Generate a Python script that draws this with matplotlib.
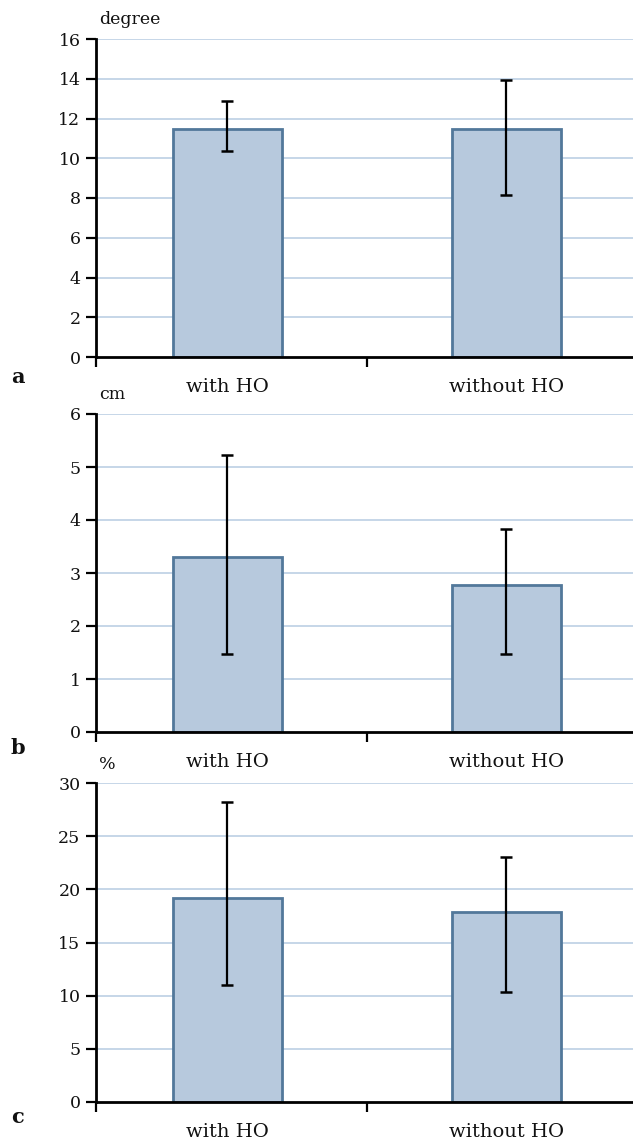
import matplotlib
matplotlib.use("Agg")
import matplotlib.pyplot as plt

# ---- data ----
categories = ["with HO", "without HO"]
panel_letters = ["a", "b", "c"]
units = ["degree", "cm", "%"]

angle_mean = [11.45, 11.45]
angle_low = [10.37, 8.13]
angle_high = [12.9, 13.95]

length_mean = [3.31, 2.77]
length_low = [1.48, 1.48]
length_high = [5.23, 3.83]

pct_mean = [19.15, 17.9]
pct_low = [10.96, 10.33]
pct_high = [28.2, 23.1]

yticks_a = [0, 2, 4, 6, 8, 10, 12, 14, 16]
yticks_b = [0, 1, 2, 3, 4, 5, 6]
yticks_c = [0, 5, 10, 15, 20, 25, 30]

W, H = 633, 1144
DPI = 100
plt.rcParams['font.family'] = ['DejaVu Serif']

fig = plt.figure(figsize=(W / DPI, H / DPI), dpi=DPI)

BAR_FILL = "#b7c9dd"
BAR_EDGE = "#52789a"
GRID = "#c2d3e6"

left_px = 96
right_px = 633
xs = [0, 1]
px_per_unit = 279.0
xlim_left = 0 - (227.2 - left_px) / px_per_unit
xlim_right = 1 + (right_px - 506.3) / px_per_unit

panels = [
    (39, 357, angle_mean, angle_low, angle_high, yticks_a, 377),
    (414, 732, length_mean, length_low, length_high, yticks_b, 748),
    (783.3, 1101.7, pct_mean, pct_low, pct_high, yticks_c, 1117),
]

for i, (top, bot, mean, low, high, yt, letter_y) in enumerate(panels):
    ax = fig.add_axes([left_px / W, 1 - bot / H, (right_px - left_px) / W, (bot - top) / H])
    ax.set_xlim(xlim_left, xlim_right)
    ax.set_ylim(yt[0], yt[-1])
    ax.set_yticks(yt)
    ax.set_yticklabels([str(v) for v in yt], fontsize=12.5, color="#111111")
    for y in yt[1:]:
        ax.axhline(y, color=GRID, lw=1.3, zorder=0)
    ax.bar(xs, mean, width=0.392, color=BAR_FILL, edgecolor=BAR_EDGE,
           linewidth=2.0, zorder=2)
    yerr = [[m - l for m, l in zip(mean, low)], [h - m for m, h in zip(mean, high)]]
    ax.errorbar(xs, mean, yerr=yerr, fmt="none", ecolor="black", elinewidth=1.6,
                capsize=4.4, capthick=1.8, zorder=3)
    for s in ["top", "right"]:
        ax.spines[s].set_visible(False)
    for s in ["left", "bottom"]:
        ax.spines[s].set_linewidth(2.0)
        ax.spines[s].set_zorder(4)
    ax.set_xticks([xlim_left, 0.5])
    ax.set_xticklabels([])
    ax.tick_params(axis="both", direction="out", length=7.2, width=1.6, color="black")
    ax.tick_params(axis="y", pad=4)
    # category labels
    for x, lab in zip(xs, categories):
        ax.annotate(lab, xy=(x, 0), xycoords=("data", "axes fraction"),
                    xytext=(0, -30 * 0.72), textcoords="offset points",
                    ha="center", va="center", fontsize=14, color="#111111",
                    annotation_clip=False)
    # unit label
    fig.text(99 / W, 1 - (top - 19) / H, units[i], ha="left", va="center",
             fontsize=12.5 if i == 0 else 12.5, color="#111111")
    fig.text(17.5 / W, 1 - letter_y / H, panel_letters[i], ha="center", va="center",
             fontsize=15, fontweight="bold", color="#111111")

fig.savefig("out.png", dpi=DPI)
